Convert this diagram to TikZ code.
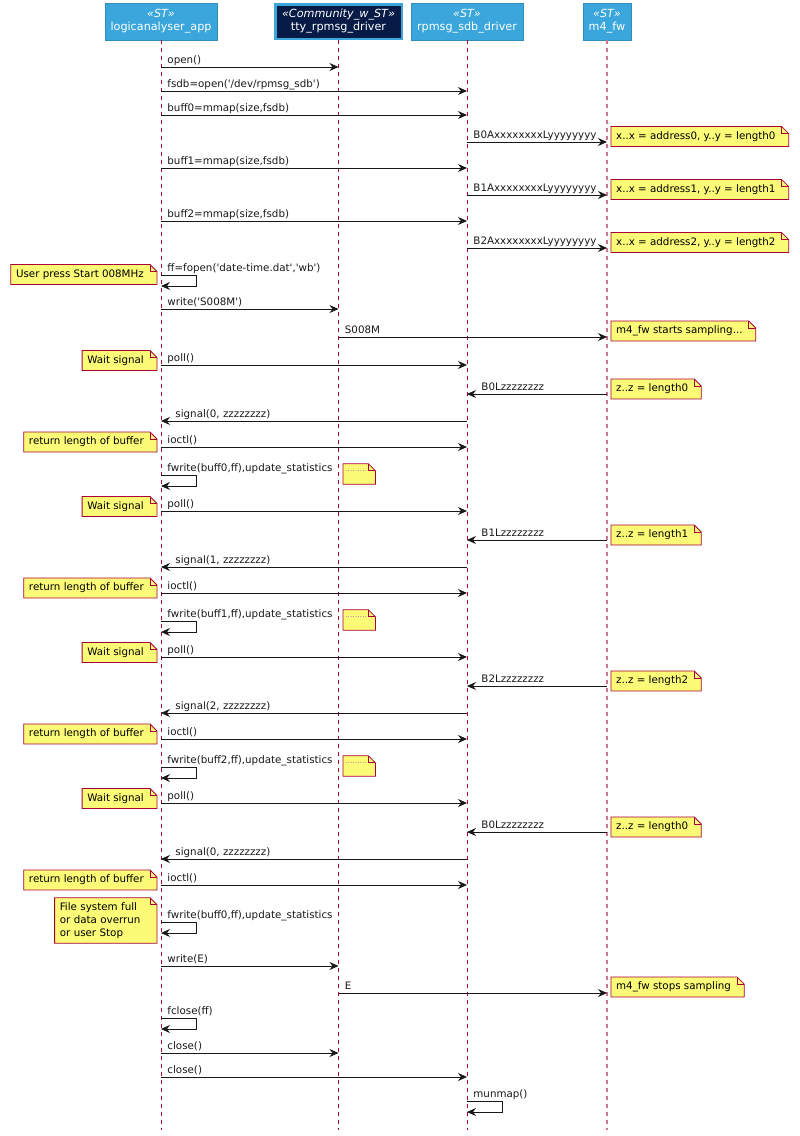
\documentclass[tikz,border=0pt]{standalone}
\usepackage{fontspec}
\newfontfamily\umlfont{DejaVu Sans}
\usetikzlibrary{arrows.meta}
\usetikzlibrary{backgrounds}
\definecolor{stblue}{RGB}{58,166,219}
\definecolor{cwnavy}{RGB}{6,27,70}
\definecolor{lifered}{RGB}{168,0,54}
\definecolor{noteyellow}{RGB}{251,251,119}
\definecolor{msgline}{RGB}{24,24,24}
\tikzset{
  umltext/.style={font=\umlfont\fontsize{10.3}{13}\selectfont},
  head/.style={font=\umlfont\fontsize{11.2}{13}\selectfont, fill=stblue, draw=stblue!85!black,
    text=white, align=center, minimum height=37pt, inner sep=2pt},
  lifeline/.style={draw=lifered, line width=0.8pt, dash pattern=on 4pt off 4pt},
  msg/.style={draw=msgline, line width=0.9pt, -{Stealth[length=9pt,width=8pt,inset=3pt]}},
  msglabel/.style={umltext, inner sep=0pt, anchor=base west, text=msgline},
  notebase/.style={umltext, align=left, inner xsep=5pt, inner ysep=4.5pt},
  note/.style={notebase, text height=8pt, text depth=2.5pt,
    execute at end node={\hspace{8pt}}},
  notebox/.style={fill=noteyellow, draw=lifered, line width=0.8pt},
}
\newcommand{\notefold}[1]{
  \begin{scope}[on background layer]
    \filldraw[notebox] (#1.north west) -- ([xshift=-7pt]#1.north east)
      -- ([yshift=-7pt]#1.north east) -- (#1.south east) -- (#1.south west) -- cycle;
  \end{scope}
  \draw[notebox, fill=none] ([xshift=-7pt]#1.north east) |- ([yshift=-7pt]#1.north east);
}
\newcommand{\callR}[4]{
  \draw[msg] (#1 |- 0,#3) -- (#2 |- 0,#3) node[msglabel, pos=0, xshift=6pt, yshift=4pt] {#4};
}
\newcommand{\callL}[4]{
  \draw[msg] (#1 |- 0,#3) -- (#2 |- 0,#3) node[msglabel, pos=1, xshift=14pt, yshift=4pt] {#4};
}
\newcommand{\selfcall}[3]{
  \draw[msg] (#1 |- 0,#2) node[msglabel, xshift=6pt, yshift=4pt] {#3}
    -- ++(35,0) -- ++(0,11) -- ++(-35,0);
}

\begin{document}
\begin{tikzpicture}[x=1pt, y=-1pt]
  \useasboundingbox (0,0) rectangle (800,1136);

  % participants
  \node[head, minimum width=112pt] (app) at (161,21.5) {\textit{«ST»}\\logicanalyser\_app};
  \node[head, minimum width=126.5pt, minimum height=34.5pt, fill=cwnavy, draw=stblue,
    line width=2.5pt] (tty) at (338.5,21.5) {\textit{«Community\_w\_ST»}\\tty\_rpmsg\_driver};
  \node[head, minimum width=112pt] (sdb) at (467,21.5) {\textit{«ST»}\\rpmsg\_sdb\_driver};
  \node[head, minimum width=48pt] (m4) at (607,21.5) {\textit{«ST»}\\m4\_fw};

  \foreach \n in {app,tty,sdb}
    \draw[lifeline] (\n.south) -- (\n |- 0,1130);
  \draw[lifeline, draw=lifered!55, line width=1.3pt] (m4.south) -- (m4 |- 0,1130);

  % setup
  \callR{app}{tty}{67}{open()}
  \callR{app}{sdb}{91}{fsdb=open('/dev/rpmsg\_sdb')}
  \foreach \i/\y in {0/115, 1/168, 2/221} {
    \callR{app}{sdb}{\y}{buff\i=mmap(size,fsdb)}
    \callR{sdb}{m4}{\y+27}{B\i AxxxxxxxxLyyyyyyyy}
    \node[note, anchor=west] (addr\i) at (611,\y+21.5) {x..x = address\i, y..y = length\i};
    \notefold{addr\i}
  }

  \selfcall{app}{275}{ff=fopen('date-time.dat','wb')}
  \node[note, anchor=east] (start) at (157,274.5) {User press Start 008MHz};
  \notefold{start}
  \callR{app}{tty}{309}{write('S008M')}
  \callR{tty}{m4}{337}{S008M}
  \node[note, anchor=west] (sampling) at (611,331) {m4\_fw starts sampling...};
  \notefold{sampling}

  % one round per buffer
  \foreach \i/\y/\f [count=\c] in {0/365/475, 1/511/621, 2/657/767, 0/803/922} {
    \callR{app}{sdb}{\y}{poll()}
    \node[note, anchor=east] (wait\c) at (157,\y-4.5) {Wait signal};
    \notefold{wait\c}
    \callL{m4}{sdb}{\y+29}{B\i Lzzzzzzzz}
    \node[note, anchor=west] (len\c) at (611,\y+24) {z..z = length\i};
    \notefold{len\c}
    \callL{sdb}{app}{\y+56}{signal(\i, zzzzzzzz)}
    \callR{app}{sdb}{\y+82}{ioctl()}
    \node[note, anchor=east] (ret\c) at (157,\y+77) {return length of buffer};
    \notefold{ret\c}
    \selfcall{app}{\f}{fwrite(buff\i,ff),update\_statistics}
  }
  \foreach \f [count=\c] in {475,621,767} {
    \node[note, anchor=west, minimum width=32pt, minimum height=20pt] (stat\c) at (343,\f-1) {};
    \notefold{stat\c}
    \draw[lifered!45, dotted] ([shift={(3pt,-6pt)}]stat\c.north west) -- ++(20,0);
  }
  \node[notebase, anchor=east, text width=92pt, minimum height=45pt] (stop) at (157,920.5)
    {File system full\\or data overrun\\or user Stop};
  \notefold{stop}

  % shutdown
  \callR{app}{tty}{966}{write(E)}
  \callR{tty}{m4}{993}{E}
  \node[note, anchor=west] (stopped) at (611,987) {m4\_fw stops sampling};
  \notefold{stopped}
  \selfcall{app}{1018}{fclose(ff)}
  \callR{app}{tty}{1053}{close()}
  \callR{app}{sdb}{1077}{close()}
  \selfcall{sdb}{1101}{munmap()}
\end{tikzpicture}
\end{document}
